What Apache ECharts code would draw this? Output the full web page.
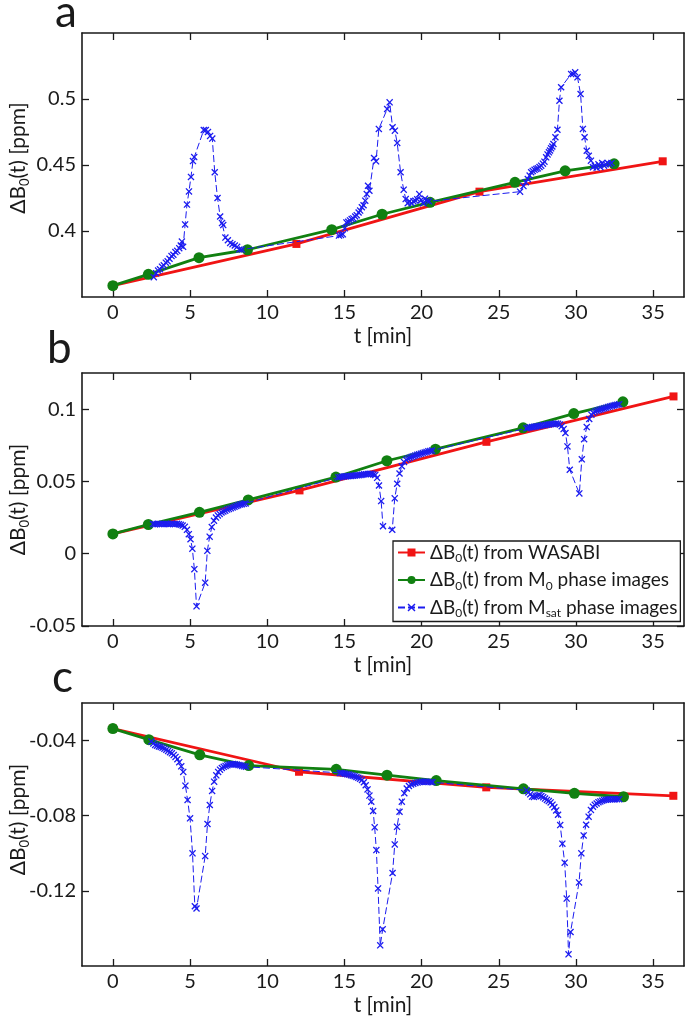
<!DOCTYPE html>
<html><head><meta charset="utf-8">
<script src="https://cdn.jsdelivr.net/npm/echarts@6/dist/echarts.min.js"></script>
<style>html,body{margin:0;padding:0;background:#fff;}#c{width:685px;height:1020px;}</style>
</head><body><div id="c"></div>
<script>
// ---------- tick labels ----------
const tTicks = [0, 5, 10, 15, 20, 25, 30, 35];
const yTicksA = [0.4, 0.45, 0.5];
const yTicksB = [-0.05, 0, 0.05, 0.1];
const yTicksC = [-0.12, -0.08, -0.04];
const panelLetters = ['a', 'b', 'c'];

// ---------- panel a ----------
const wasabiTA = [0, 11.89, 23.75, 35.62];
const wasabiVA = [0.3586, 0.3902, 0.4298, 0.4528];
const m0TA = [0, 2.3, 5.58, 8.72, 14.18, 17.44, 20.55, 26.05, 29.3, 32.47];
const m0VA = [0.3586, 0.3672, 0.3798, 0.3858, 0.401, 0.4127, 0.4217, 0.4369, 0.4456, 0.4509];
const msatA = [
 [2.65,0.365],[2.8,0.368],[2.93,0.370],[3.05,0.371],[3.18,0.373],[3.3,0.374],[3.43,0.376],[3.55,0.377],[3.67,0.379],[3.8,0.381],
 [3.92,0.382],[4.05,0.384],[4.17,0.385],[4.3,0.387],[4.4,0.389],[4.47,0.392],[4.55,0.388],[4.68,0.405],[4.8,0.420],[4.93,0.430],
 [5.06,0.441],[5.19,0.453],[5.27,0.456],[5.89,0.4765],[6.02,0.4765],[6.16,0.475],[6.3,0.472],[6.44,0.470],[6.6,0.4445],[6.78,0.425],
 [6.95,0.411],[7.07,0.406],[7.15,0.4045],[7.29,0.395],[7.45,0.393],[7.6,0.391],[7.75,0.390],[7.9,0.389],[8.05,0.388],[8.2,0.386],[8.35,0.386],
 [14.65,0.3965],[14.78,0.397],[14.9,0.3975],[15.02,0.402],[15.13,0.4065],[15.25,0.407],[15.36,0.408],[15.47,0.409],[15.58,0.4095],[15.7,0.411],
 [15.8,0.412],[15.92,0.414],[16.02,0.4155],[16.13,0.418],[16.24,0.4195],[16.35,0.423],[16.45,0.428],[16.53,0.4343],[16.62,0.4305],[16.92,0.4553],
 [17.05,0.4528],[17.23,0.4773],[17.77,0.4924],[17.93,0.4975],[18.12,0.4786],[18.27,0.476],[18.42,0.4667],[18.64,0.4445],[18.84,0.4313],[18.97,0.4242],
 [19.1,0.421],[19.22,0.4225],[19.35,0.421],[19.47,0.4225],[19.6,0.423],[19.72,0.424],[19.85,0.428],[19.97,0.4235],[20.1,0.421],[20.22,0.4245],[20.35,0.423],[20.48,0.4225],
 [26.38,0.4298],[26.6,0.434],[26.75,0.437],[26.88,0.4394],[27.0,0.442],[27.1,0.4445],[27.2,0.4455],[27.32,0.4464],[27.43,0.447],[27.53,0.4475],
 [27.64,0.4485],[27.75,0.4495],[27.86,0.451],[27.96,0.4525],[28.07,0.4558],[28.16,0.458],[28.25,0.4596],[28.32,0.461],[28.39,0.4626],[28.47,0.464],
 [28.54,0.4659],[28.67,0.471],[28.8,0.4767],[28.93,0.4987],[29.04,0.5089],[29.69,0.5189],[29.82,0.519],[29.95,0.5202],[30.1,0.5164],[30.3,0.5038],
 [30.45,0.4773],[30.56,0.471],[30.7,0.4608],[30.83,0.457],[30.97,0.4533],[31.1,0.4483],[31.22,0.4495],[31.34,0.448],[31.46,0.4505],[31.58,0.4485],
 [31.7,0.4515],[31.82,0.4495],[31.94,0.4505],[32.06,0.4515],[32.18,0.4505],[32.3,0.4515]
];

// ---------- panel b ----------
const wasabiTB = [0, 12.09, 24.2, 36.32];
const wasabiVB = [0.0137, 0.0438, 0.0774, 0.1088];
const m0TB = [0, 2.3, 5.61, 8.77, 14.45, 17.75, 20.9, 26.58, 29.86, 33.04];
const m0VB = [0.0137, 0.0202, 0.0286, 0.0372, 0.053, 0.0643, 0.0723, 0.0871, 0.0969, 0.1051];
const msatB = [
 [2.6,0.0205],[2.72,0.0203],[2.84,0.0205],[2.96,0.0207],[3.08,0.0205],[3.2,0.0206],[3.32,0.0205],[3.44,0.0207],[3.56,0.0206],[3.68,0.0205],
 [3.8,0.0207],[3.92,0.0206],[4.04,0.0205],[4.16,0.0207],[4.28,0.0204],[4.4,0.0200],[4.52,0.0195],[4.66,0.0186],[4.8,0.0165],[4.92,0.0135],
 [5.03,0.0100],[5.15,0.0035],[5.28,-0.0107],[5.42,-0.0364],[5.98,-0.0200],[6.12,0.0020],[6.27,0.0118],[6.41,0.0184],[6.55,0.0228],[6.68,0.0250],
 [6.8,0.0265],[6.92,0.0275],[7.04,0.0285],[7.16,0.0292],[7.28,0.0298],[7.4,0.0305],[7.52,0.0310],[7.64,0.0315],[7.76,0.0320],[7.88,0.0325],
 [8.0,0.0330],[8.12,0.0335],[8.24,0.0340],[8.36,0.0342],[8.48,0.0345],[8.6,0.0348],
 [14.6,0.0528],[14.72,0.0530],[14.84,0.0532],[14.96,0.0534],[15.08,0.0535],[15.2,0.0536],[15.32,0.0537],[15.44,0.0538],[15.56,0.0540],[15.68,0.0541],
 [15.8,0.0542],[15.92,0.0543],[16.04,0.0545],[16.16,0.0547],[16.28,0.0549],[16.4,0.0550],[16.52,0.0552],[16.64,0.0553],[16.76,0.0553],[16.88,0.0548],
 [17.0,0.0545],[17.12,0.0525],[17.24,0.0472],[17.38,0.0364],[17.5,0.0190],[18.1,0.0166],[18.26,0.0383],[18.42,0.0484],[18.57,0.0555],[18.72,0.0605],
 [18.86,0.0635],[19.0,0.0650],[19.12,0.0658],[19.24,0.0664],[19.36,0.0670],[19.48,0.0675],[19.6,0.0680],[19.72,0.0684],[19.84,0.0688],[19.96,0.0692],
 [20.08,0.0696],[20.2,0.0700],[20.32,0.0704],[20.44,0.0708],[20.56,0.0711],[20.68,0.0714],
 [26.8,0.0868],[26.92,0.0872],[27.04,0.0874],[27.16,0.0876],[27.28,0.0878],[27.4,0.0880],[27.52,0.0882],[27.64,0.0884],[27.76,0.0886],[27.88,0.0888],
 [28.0,0.0890],[28.12,0.0892],[28.24,0.0894],[28.36,0.0896],[28.48,0.0898],[28.6,0.0899],[28.72,0.0900],[28.84,0.0899],[28.96,0.0893],[29.08,0.0882],
 [29.2,0.0862],[29.32,0.0835],[29.45,0.0742],[29.6,0.0581],[30.22,0.0417],[30.38,0.0653],[30.53,0.0792],[30.7,0.0876],[30.86,0.0932],[31.0,0.0962],
 [31.12,0.0975],[31.24,0.0983],[31.36,0.0989],[31.48,0.0994],[31.6,0.0998],[31.72,0.1002],[31.84,0.1006],[31.96,0.1010],[32.08,0.1014],[32.2,0.1018],
 [32.32,0.1022],[32.44,0.1025],[32.56,0.1028],[32.68,0.1031],[32.8,0.1034]
];

// ---------- panel c ----------
const wasabiTC = [0, 12.06, 24.19, 36.31];
const wasabiVC = [-0.0336, -0.0566, -0.0649, -0.0694];
const m0TC = [0, 2.33, 5.63, 8.8, 14.47, 17.76, 20.95, 26.6, 29.9, 33.08];
const m0VC = [-0.0336, -0.0395, -0.0476, -0.0533, -0.0553, -0.0584, -0.0613, -0.0657, -0.0681, -0.0699];
const msatC = [
 [2.5,-0.0405],[2.62,-0.0415],[2.74,-0.0423],[2.86,-0.0427],[2.98,-0.0431],[3.1,-0.0434],[3.22,-0.0438],[3.34,-0.0443],[3.46,-0.0449],[3.58,-0.0455],
 [3.7,-0.0462],[3.82,-0.0468],[3.94,-0.0477],[4.06,-0.0487],[4.18,-0.0499],[4.3,-0.0515],[4.43,-0.0537],[4.56,-0.0567],[4.7,-0.0640],[4.84,-0.0716],
 [5.0,-0.0814],[5.16,-0.1000],[5.31,-0.1282],[5.42,-0.1294],[5.98,-0.1015],[6.13,-0.0844],[6.28,-0.0743],[6.43,-0.0668],[6.56,-0.0619],[6.7,-0.0585],
 [6.82,-0.0567],[6.94,-0.0555],[7.06,-0.0546],[7.18,-0.0540],[7.3,-0.0535],[7.42,-0.0531],[7.54,-0.0528],[7.66,-0.0526],[7.78,-0.0525],[7.9,-0.0526],
 [8.02,-0.0528],[8.14,-0.0530],[8.26,-0.0532],[8.38,-0.0535],[8.5,-0.0537],[8.62,-0.0539],
 [14.7,-0.0572],[14.82,-0.0573],[14.94,-0.0575],[15.06,-0.0577],[15.18,-0.0579],[15.3,-0.0581],[15.42,-0.0584],[15.54,-0.0587],[15.66,-0.0590],[15.78,-0.0594],
 [15.9,-0.0598],[16.02,-0.0603],[16.14,-0.0610],[16.26,-0.0622],[16.38,-0.0638],[16.5,-0.0660],[16.62,-0.0693],[16.74,-0.0725],[16.86,-0.0775],[16.96,-0.0862],
 [17.07,-0.0983],[17.18,-0.1187],[17.32,-0.1490],[17.48,-0.1405],[18.12,-0.1105],[18.26,-0.0953],[18.41,-0.0859],[18.57,-0.0779],[18.72,-0.0725],[18.88,-0.0680],
 [19.04,-0.0655],[19.18,-0.0642],[19.32,-0.0634],[19.46,-0.0630],[19.6,-0.0626],[19.74,-0.0623],[19.88,-0.0620],[20.02,-0.0619],[20.16,-0.0619],[20.3,-0.0619],
 [20.44,-0.0620],[20.58,-0.0621],[20.7,-0.0622],
 [26.8,-0.0665],[26.92,-0.0676],[27.04,-0.0686],[27.16,-0.0698],[27.28,-0.0700],[27.4,-0.0696],[27.52,-0.0692],[27.64,-0.0690],[27.76,-0.0695],[27.88,-0.0702],
 [28.0,-0.0709],[28.12,-0.0716],[28.24,-0.0722],[28.36,-0.0729],[28.48,-0.0741],[28.6,-0.0755],[28.72,-0.0772],[28.84,-0.0795],[28.98,-0.0850],[29.12,-0.0949],
 [29.27,-0.1050],[29.4,-0.1241],[29.52,-0.1538],[29.65,-0.1419],[30.2,-0.1155],[30.35,-0.1000],[30.5,-0.0905],[30.66,-0.0848],[30.82,-0.0805],[30.97,-0.0769],
 [31.1,-0.0752],[31.22,-0.0742],[31.34,-0.0735],[31.46,-0.0728],[31.58,-0.0724],[31.7,-0.0720],[31.82,-0.0717],[31.94,-0.0715],[32.06,-0.0714],[32.18,-0.0713],
 [32.3,-0.0713],[32.42,-0.0712],[32.54,-0.0712],[32.66,-0.0712],[32.8,-0.0712]
];

// ---------- styling / layout ----------
const FONT = 'Lato';
const INK = '#1a1a1a';
const RED = '#f01414', GREEN = '#118011', BLUE = '#1c1cf0';
const X_PATH = 'path://M0,1.3L1.3,0L5,3.7L8.7,0L10,1.3L6.3,5L10,8.7L8.7,10L5,6.3L1.3,10L0,8.7L3.7,5Z';
const rich = {
  n: {fontFamily: FONT, fontSize: 19, color: INK},
  s: {fontFamily: FONT, fontSize: 12, color: INK, padding: [12, 0, 0, 0]}
};
const panels = [
  {grid: {left: 82, top: 33, width: 602, height: 264}, ymin: 0.35, ymax: 0.55, yt: yTicksA,
   wT: wasabiTA, wV: wasabiVA, mT: m0TA, mV: m0VA, sat: msatA, namePad: [0, 0, 0, 14], letter: {left: 55, top: -9}},
  {grid: {left: 82, top: 373, width: 602, height: 253}, ymin: -0.05, ymax: 0.125, yt: yTicksB,
   wT: wasabiTB, wV: wasabiVB, mT: m0TB, mV: m0VB, sat: msatB, namePad: [0, 0, 0, 0], letter: {left: 47, top: 327}},
  {grid: {left: 82, top: 703, width: 602, height: 263}, ymin: -0.16, ymax: -0.02, yt: yTicksC,
   wT: wasabiTC, wV: wasabiVC, mT: m0TC, mV: m0VC, sat: msatC, namePad: [0, 0, 0, 30], letter: {left: 52, top: 656}}
];
const zip = (ts, vs) => ts.map((t, i) => [t, vs[i]]);
const axisLine = {show: true, onZero: false, lineStyle: {color: INK, width: 1.6}};
const tick = (vals) => ({show: true, inside: true, length: 7, customValues: vals, lineStyle: {color: INK, width: 1.3}});

const option = {
  animation: false,
  backgroundColor: '#fff',
  grid: panels.map(p => Object.assign({containLabel: false, outerBoundsMode: 'none'}, p.grid)),
  xAxis: [], yAxis: [], series: [],
  legend: {
    data: ['wasabi', 'm0', 'msat'],
    orient: 'vertical', left: 393, top: 541,
    itemWidth: 27, itemHeight: 10, itemGap: 6,
    padding: [2, 3, 2, 4],
    backgroundColor: '#fff', borderColor: INK, borderWidth: 1.3,
    textStyle: {rich: rich},
    formatter: function (name) {
      if (name === 'wasabi') return '{n|ΔB}{s|0}{n|(t) from WASABI}';
      if (name === 'm0') return '{n|ΔB}{s|0}{n|(t) from M}{s|0}{n| phase images}';
      return '{n|ΔB}{s|0}{n|(t) from M}{s|sat}{n| phase images}';
    }
  },
  graphic: panels.map((p, i) => ({
    type: 'text', left: p.letter.left, top: p.letter.top,
    style: {text: panelLetters[i], font: '44px ' + FONT, fill: INK}
  }))
};

panels.forEach((p, i) => {
  option.xAxis.push({
    type: 'value', gridIndex: i, position: 'bottom', min: -2, max: 37,
    axisLine: axisLine, axisTick: tick(tTicks),
    axisLabel: {show: true, customValues: tTicks, margin: 6, fontFamily: FONT, fontSize: 20, color: INK},
    splitLine: {show: false},
    name: 't [min]', nameLocation: 'middle', nameGap: 29, nameMoveOverlap: false,
    nameTextStyle: {fontFamily: FONT, fontSize: 21, color: INK}
  });
  option.xAxis.push({
    type: 'value', gridIndex: i, position: 'top', min: -2, max: 37,
    axisLine: axisLine, axisTick: tick(tTicks), axisLabel: {show: false}, splitLine: {show: false}
  });
  option.yAxis.push({
    type: 'value', gridIndex: i, position: 'left', min: p.ymin, max: p.ymax,
    axisLine: axisLine, axisTick: tick(p.yt),
    axisLabel: {show: true, customValues: p.yt, margin: 6, fontFamily: FONT, fontSize: 20, color: INK},
    splitLine: {show: false},
    name: '{n|ΔB}{s|0}{n|(t) [ppm]}', nameLocation: 'middle', nameGap: 51, nameMoveOverlap: false,
    nameTextStyle: {rich: {n: {fontFamily: FONT, fontSize: 21, color: INK}, s: {fontFamily: FONT, fontSize: 13, color: INK, padding: [12, 0, 0, 0]}}, padding: p.namePad}
  });
  option.yAxis.push({
    type: 'value', gridIndex: i, position: 'right', min: p.ymin, max: p.ymax,
    axisLine: axisLine, axisTick: tick(p.yt), axisLabel: {show: false}, splitLine: {show: false}
  });
  const ax = {xAxisIndex: 2 * i, yAxisIndex: 2 * i};
  option.series.push(Object.assign({
    name: 'wasabi', type: 'line', data: zip(p.wT, p.wV),
    symbol: 'rect', symbolSize: 8, itemStyle: {color: RED},
    lineStyle: {color: RED, width: 2.8}, z: 3
  }, ax));
  option.series.push(Object.assign({
    name: 'm0', type: 'line', data: zip(p.mT, p.mV),
    symbol: 'circle', symbolSize: 11, itemStyle: {color: GREEN},
    lineStyle: {color: GREEN, width: 2.8}, z: 4
  }, ax));
  option.series.push(Object.assign({
    name: 'msat', type: 'line', data: p.sat,
    symbol: X_PATH, symbolSize: 7, itemStyle: {color: BLUE},
    lineStyle: {color: BLUE, width: 1, type: [7, 3]}, z: 5
  }, ax));
});

const chart = echarts.init(document.getElementById('c'), null, {renderer: 'canvas'});
chart.setOption(option);
</script>
</body></html>
